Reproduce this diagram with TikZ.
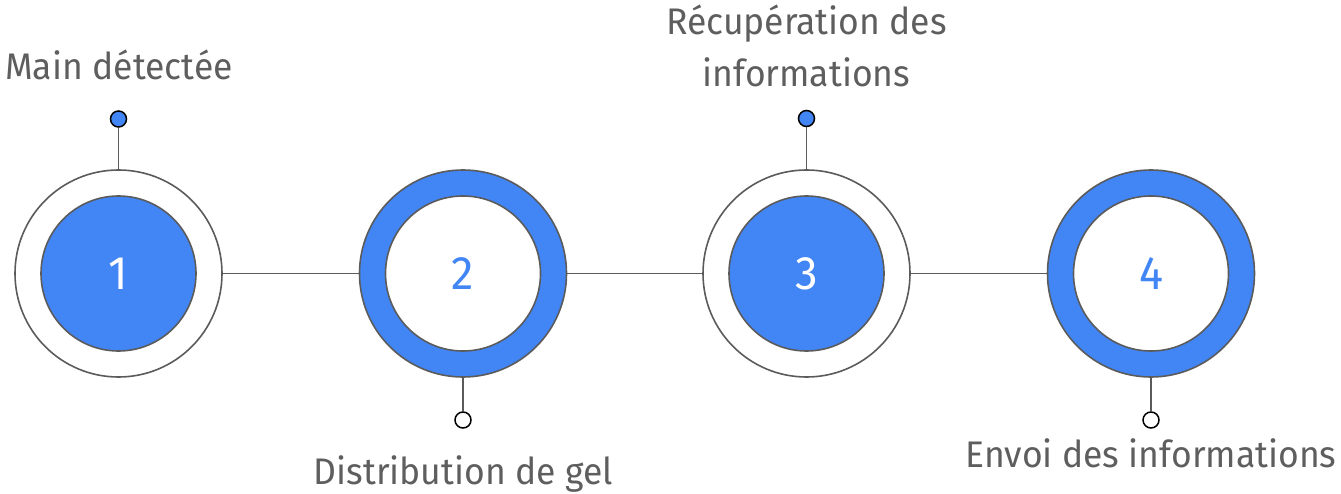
\documentclass[tikz,border=0pt]{standalone}
\usepackage{fontspec}
\setmainfont{Fira Sans}[FakeStretch=0.96]
\definecolor{gblue}{HTML}{4285F4}
\definecolor{gline}{HTML}{5B5B5B}
\definecolor{gtext}{HTML}{5E5E5E}
\tikzset{
  outerc/.style={circle,draw=gline,line width=1.6pt,minimum size=207pt,inner sep=0pt},
  innerc/.style={circle,draw=gline,line width=1.6pt,minimum size=155pt,inner sep=0pt,font=\fontsize{47}{47}\selectfont},
  dotc/.style={circle,draw=black,line width=1.5pt,minimum size=16pt,inner sep=0pt},
  conn/.style={draw=gline,line width=1.6pt},
  lbl/.style={text=gtext,font=\fontsize{37}{52}\selectfont,align=center,inner sep=0pt},
}
\begin{document}
\begin{tikzpicture}[x=1pt,y=-1pt]
\useasboundingbox (0,0) rectangle (1341,494);
% circles
\node[outerc,fill=white] (o1) at (118.5,273.5) {};
\node[innerc,fill=gblue,text=white] (i1) at (118.5,273.5) {1};
\node[outerc,fill=gblue] (o2) at (463,273.5) {};
\node[innerc,fill=white,text=gblue] (i2) at (463,273.5) {2};
\node[outerc,fill=white] (o3) at (806.5,273.5) {};
\node[innerc,fill=gblue,text=white] (i3) at (806.5,273.5) {3};
\node[outerc,fill=gblue] (o4) at (1151,273.5) {};
\node[innerc,fill=white,text=gblue] (i4) at (1151,273.5) {4};
% horizontal connectors
\draw[conn] (o1.east) -- (o2.west);
\draw[conn] (o2.east) -- (o3.west);
\draw[conn] (o3.east) -- (o4.west);
% dots
\node[dotc,fill=gblue] (d1) at (118.5,119) {};
\node[dotc,fill=white] (d2) at (463,420) {};
\node[dotc,fill=gblue] (d3) at (806.5,118.5) {};
\node[dotc,fill=white] (d4) at (1151,420) {};
\draw[conn] (d1) -- (o1.north);
\draw[conn] (d2) -- (o2.south);
\draw[conn] (d3) -- (o3.north);
\draw[conn] (d4) -- (o4.south);
% labels
\node[lbl,anchor=base] (l1) at (119,80) {Main détectée};
\node[lbl,anchor=base] (l2) at (463.5,484) {Distribution de gel};
\node[lbl,anchor=base] (l3) at (806.5,35) {Récupération des};
\node[lbl,anchor=base] (l3b) at (806.5,87) {informations};
\node[lbl,anchor=base] (l4) at (1151,467) {Envoi des informations};
\end{tikzpicture}
\end{document}
